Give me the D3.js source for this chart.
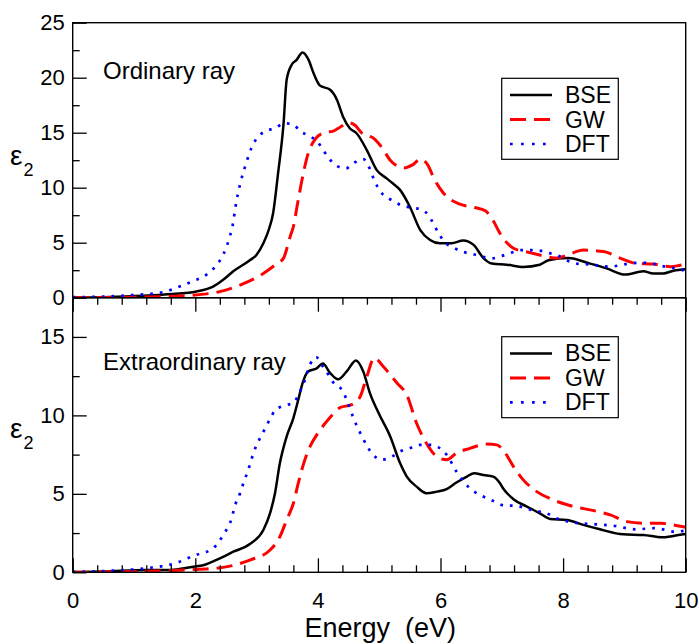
<!DOCTYPE html>
<html><head><meta charset="utf-8">
<script src="https://cdn.jsdelivr.net/npm/d3@7"></script>
<style>body{margin:0;background:#fff}svg{display:block}text{font-family:"Liberation Sans",Arial,sans-serif}</style>
</head><body>
<script>
// ---------- data ----------
const xTicks = [0, 2, 4, 6, 8, 10];
const topYTicks = [0, 5, 10, 15, 20, 25];
const botYTicks = [0, 5, 10, 15];
const seriesNames = ["BSE", "GW", "DFT"];
const panelTitles = ["Ordinary ray", "Extraordinary ray"];

const ordBSE = [[0,0.02],[0.5,0.05],[1.0,0.15],[1.5,0.3],[2.0,0.55],[2.29,1.0],[2.45,1.6],[2.62,2.4],[2.89,3.4],[3.0,3.9],[3.11,4.95],[3.2,6.2],[3.27,7.7],[3.35,11.3],[3.44,15.85],[3.49,19.8],[3.57,21.15],[3.65,21.6],[3.75,22.3],[3.85,21.6],[3.93,20.4],[4.03,19.3],[4.2,18.9],[4.31,18.0],[4.41,16.45],[4.52,15.4],[4.63,14.95],[4.8,13.4],[4.96,11.6],[5.12,10.85],[5.22,10.4],[5.34,9.8],[5.5,8.27],[5.67,6.15],[5.83,5.25],[5.99,4.95],[6.18,4.95],[6.37,5.2],[6.54,4.8],[6.7,3.6],[6.84,3.1],[7.08,3.0],[7.35,2.8],[7.62,3.0],[7.76,3.4],[8.08,3.6],[8.44,3.1],[8.71,2.67],[9.01,2.1],[9.31,2.4],[9.47,2.2],[9.63,2.2],[9.8,2.45],[10,2.58]];
const ordGW = [[0,0],[1.0,0.05],[1.6,0.12],[2.0,0.25],[2.4,0.55],[2.73,1.15],[3.11,2.2],[3.33,3.1],[3.44,3.6],[3.5,4.6],[3.55,5.6],[3.6,6.45],[3.67,8.6],[3.74,10.7],[3.84,13.1],[3.97,14.5],[4.1,15.0],[4.25,15.15],[4.36,15.5],[4.5,15.9],[4.6,15.7],[4.71,15.0],[4.93,14.4],[5.05,13.6],[5.18,12.5],[5.4,11.8],[5.55,12.1],[5.67,12.6],[5.8,12.0],[5.88,11.0],[6.05,9.5],[6.32,8.5],[6.56,8.2],[6.73,7.9],[6.86,7.0],[6.97,5.85],[7.19,4.5],[7.46,4.1],[7.73,3.73],[7.9,3.6],[8.11,3.97],[8.33,4.33],[8.66,4.2],[8.93,3.6],[9.2,3.12],[9.47,3.06],[9.75,2.82],[9.93,2.97],[10,3.04]];
const ordDFT = [[0,0.05],[0.5,0.1],[1.0,0.25],[1.34,0.4],[1.51,0.55],[1.67,0.85],[1.83,1.2],[1.98,1.55],[2.13,1.9],[2.27,2.5],[2.38,3.2],[2.46,3.97],[2.52,4.8],[2.57,5.7],[2.61,6.6],[2.66,8.4],[2.73,10.3],[2.82,12.06],[2.93,13.8],[3.02,14.6],[3.15,15.15],[3.3,15.4],[3.45,15.85],[3.59,15.76],[3.72,15.1],[3.86,14.7],[3.99,14.2],[4.09,13.4],[4.18,12.67],[4.3,12.0],[4.46,11.76],[4.59,12.27],[4.74,12.6],[4.84,11.8],[4.9,10.95],[4.97,10.1],[5.07,9.34],[5.2,8.88],[5.35,8.43],[5.51,8.2],[5.68,8.03],[5.81,7.45],[5.89,6.67],[5.97,5.85],[6.06,5.1],[6.21,4.55],[6.36,4.18],[6.52,3.97],[6.68,3.73],[6.84,3.58],[7.0,3.8],[7.16,4.1],[7.32,4.33],[7.49,4.33],[7.65,4.25],[7.81,4.0],[7.98,3.67],[8.11,3.27],[8.28,3.06],[8.44,3.03],[8.6,2.9],[8.78,2.82],[8.94,2.97],[9.11,3.12],[9.27,3.18],[9.43,3.12],[9.6,2.9],[9.77,2.73],[9.93,2.5],[10,2.6]];

const extBSE = [[0,0.02],[0.5,0.05],[1.2,0.15],[1.59,0.15],[1.97,0.36],[2.13,0.45],[2.4,0.89],[2.62,1.31],[2.89,1.8],[3.11,2.7],[3.22,3.77],[3.3,5.04],[3.38,6.96],[3.49,8.65],[3.6,9.83],[3.68,11.0],[3.75,12.06],[3.84,12.8],[3.98,13.0],[4.08,13.3],[4.2,12.7],[4.33,12.3],[4.47,12.8],[4.62,13.5],[4.74,12.8],[4.85,11.4],[4.99,10.15],[5.18,8.65],[5.34,6.96],[5.45,6.1],[5.61,5.46],[5.77,5.04],[5.94,5.14],[6.1,5.3],[6.26,5.72],[6.43,6.1],[6.55,6.32],[6.7,6.2],[6.86,6.1],[6.97,5.68],[7.02,5.36],[7.19,4.66],[7.41,4.19],[7.62,3.76],[7.79,3.4],[8.06,3.34],[8.33,3.02],[8.6,2.74],[8.98,2.42],[9.31,2.38],[9.61,2.23],[9.8,2.32],[10,2.44]];
const extGW = [[0,0],[1.0,0.05],[1.6,0.1],[1.8,0.15],[2.35,0.26],[2.89,0.78],[3.22,1.42],[3.38,2.27],[3.49,3.34],[3.6,4.4],[3.68,5.68],[3.77,6.96],[3.87,8.0],[4.0,8.87],[4.14,9.6],[4.25,10.1],[4.36,10.5],[4.55,10.68],[4.69,11.2],[4.8,12.5],[4.92,13.66],[5.07,13.1],[5.29,12.06],[5.45,11.3],[5.61,9.5],[5.77,8.23],[5.94,7.38],[6.1,7.17],[6.26,7.6],[6.48,7.9],[6.76,8.17],[6.92,8.12],[7.02,7.8],[7.19,6.74],[7.35,5.89],[7.57,5.14],[7.84,4.61],[8.17,4.19],[8.5,3.93],[8.77,3.66],[9.04,3.23],[9.31,3.13],[9.59,3.13],[9.8,3.02],[10,2.87]];
const extDFT = [[0,0.02],[0.5,0.08],[1.2,0.26],[1.67,0.57],[1.97,1.05],[2.29,1.53],[2.48,2.53],[2.57,3.17],[2.66,4.4],[2.73,5.04],[2.78,5.63],[2.84,6.27],[2.89,6.85],[2.94,7.49],[3.0,8.12],[3.07,8.65],[3.15,9.25],[3.22,9.78],[3.31,10.36],[3.46,10.63],[3.61,10.82],[3.69,11.38],[3.77,12.06],[3.87,13.23],[3.97,13.72],[4.08,13.12],[4.17,12.6],[4.25,12.1],[4.39,11.63],[4.47,11.0],[4.58,9.83],[4.72,8.65],[4.9,7.49],[5.04,7.17],[5.21,7.38],[5.34,7.7],[5.5,7.91],[5.67,8.12],[5.83,8.12],[5.96,7.98],[6.1,7.49],[6.26,6.42],[6.45,5.46],[6.59,5.04],[6.76,4.72],[6.89,4.5],[7.05,4.25],[7.22,4.25],[7.38,4.08],[7.54,3.91],[7.71,3.8],[7.87,3.48],[8.17,3.17],[8.53,3.06],[8.85,2.95],[9.18,2.74],[9.5,2.81],[9.83,2.59],[10,2.66]];

// ---------- layout ----------
const W = 699, H = 644;
const L = 72.7, R = 685.7;
const svg = d3.select("body").append("svg").attr("width", W).attr("height", H);

const x = d3.scaleLinear().domain([0, 10]).range([L, R]);
const panels = [
  { y: d3.scaleLinear().domain([0, 25]).range([297.7, 22.7]), top: 22.7, bottom: 297.7,
    ticks: topYTicks, minor: d3.range(0, 25.01, 2.5), data: [ordBSE, ordGW, ordDFT],
    title: panelTitles[0], titleY: 79, legTop: 78.3, epsY: 165, xTopTicks: false },
  { y: d3.scaleLinear().domain([0, 17.5]).range([572.3, 297.7]), top: 297.7, bottom: 572.3,
    ticks: botYTicks, minor: d3.range(0, 17.51, 2.5), data: [extBSE, extGW, extDFT],
    title: panelTitles[1], titleY: 369.5, legTop: 336.7, epsY: 437.5, xTopTicks: true }
];

const styles = [
  { color: "#000000", width: 2.5, dash: null },
  { color: "#ff0000", width: 3, dash: "16 8" },
  { color: "#0000ff", width: 2.7, dash: "2.7 7" }
];

const xMinor = d3.range(0, 10.001, 0.4);

panels.forEach((p, i) => {
  const g = svg.append("g");
  const clipId = "clip" + i;
  svg.append("clipPath").attr("id", clipId).append("rect")
    .attr("x", L).attr("y", p.top).attr("width", R - L).attr("height", p.bottom - p.top);

  // curves
  const line = d3.line().x(d => x(d[0])).y(d => p.y(d[1])).curve(d3.curveMonotoneX);
  p.data.forEach((ser, k) => {
    g.append("path").datum(ser).attr("d", line).attr("clip-path", `url(#${clipId})`)
      .attr("fill", "none").attr("stroke", styles[k].color).attr("stroke-width", styles[k].width)
      .attr("stroke-dasharray", styles[k].dash).attr("stroke-linejoin", "round");
  });

  // frame
  g.append("rect").attr("x", L).attr("y", p.top).attr("width", R - L).attr("height", p.bottom - p.top)
    .attr("fill", "none").attr("stroke", "#000").attr("stroke-width", 1.4);

  // y axis major
  const ya = g.append("g").attr("transform", `translate(${L},0)`)
    .call(d3.axisLeft(p.y).tickValues(p.ticks).tickSize(-14).tickPadding(8).tickFormat(d3.format("d")));
  ya.select(".domain").remove();
  ya.selectAll("line").attr("stroke-width", 1.3);
  ya.selectAll("text").attr("font-size", 22).attr("font-family", '"Liberation Sans",Arial,sans-serif').attr("fill", "#000");
  // y axis minor
  const ym = g.append("g").attr("transform", `translate(${L},0)`)
    .call(d3.axisLeft(p.y).tickValues(p.minor.filter(v => !p.ticks.includes(v))).tickSize(-7).tickFormat(""));
  ym.select(".domain").remove();
  ym.selectAll("line").attr("stroke-width", 1.3);

  if (p.xTopTicks) {
    const xt = g.append("g").attr("transform", `translate(0,${p.top})`)
      .call(d3.axisTop(x).tickValues(xTicks).tickSize(-14).tickFormat(""));
    xt.select(".domain").remove(); xt.selectAll("line").attr("stroke-width", 1.3);
    const xtm = g.append("g").attr("transform", `translate(0,${p.top})`)
      .call(d3.axisTop(x).tickValues(xMinor.filter(v => Math.abs(v / 2 - Math.round(v / 2)) > 1e-6)).tickSize(-7).tickFormat(""));
    xtm.select(".domain").remove(); xtm.selectAll("line").attr("stroke-width", 1.3);
  }

  // panel title
  g.append("text").attr("x", 103).attr("y", p.titleY).attr("font-size", 24).attr("fill", "#000").text(p.title);

  // y label epsilon_2
  g.append("text").attr("x", 10).attr("y", p.epsY).attr("font-size", 28).attr("fill", "#000").text("ε");
  g.append("text").attr("x", 23.5).attr("y", p.epsY + 11).attr("font-size", 18).attr("fill", "#000").text("2");

  // legend
  const lx = 501.7, lw = 116.6, lh = 81;
  g.append("rect").attr("x", lx).attr("y", p.legTop).attr("width", lw).attr("height", lh)
    .attr("fill", "#fff").attr("stroke", "#000").attr("stroke-width", 1.2);
  seriesNames.forEach((name, k) => {
    const ly = p.legTop + 16.7 + k * 24.5;
    g.append("line").attr("x1", 510).attr("x2", 552).attr("y1", ly).attr("y2", ly)
      .attr("stroke", styles[k].color).attr("stroke-width", styles[k].width)
      .attr("stroke-dasharray", k === 2 ? "2.7 8.3" : styles[k].dash);
    g.append("text").attr("x", 565).attr("y", ly + 8).attr("font-size", 23).attr("fill", "#000").text(name);
  });
});

// bottom x axis
const pb = panels[1];
const xa = svg.append("g").attr("transform", `translate(0,${pb.bottom})`)
  .call(d3.axisBottom(x).tickValues(xTicks).tickSize(-14).tickPadding(20).tickFormat(d3.format("d")));
xa.select(".domain").remove();
xa.selectAll("line").attr("stroke-width", 1.3);
xa.selectAll("text").attr("font-size", 22).attr("font-family", '"Liberation Sans",Arial,sans-serif').attr("fill", "#000");
const xam = svg.append("g").attr("transform", `translate(0,${pb.bottom})`)
  .call(d3.axisBottom(x).tickValues(xMinor.filter(v => Math.abs(v / 2 - Math.round(v / 2)) > 1e-6)).tickSize(-7).tickFormat(""));
xam.select(".domain").remove(); xam.selectAll("line").attr("stroke-width", 1.3);

svg.append("text").attr("x", (L + R) / 2 + 1).attr("y", 637).attr("text-anchor", "middle")
  .attr("font-size", 27).attr("fill", "#000").style("white-space", "pre").text("Energy  (eV)");
</script>
</body></html>
